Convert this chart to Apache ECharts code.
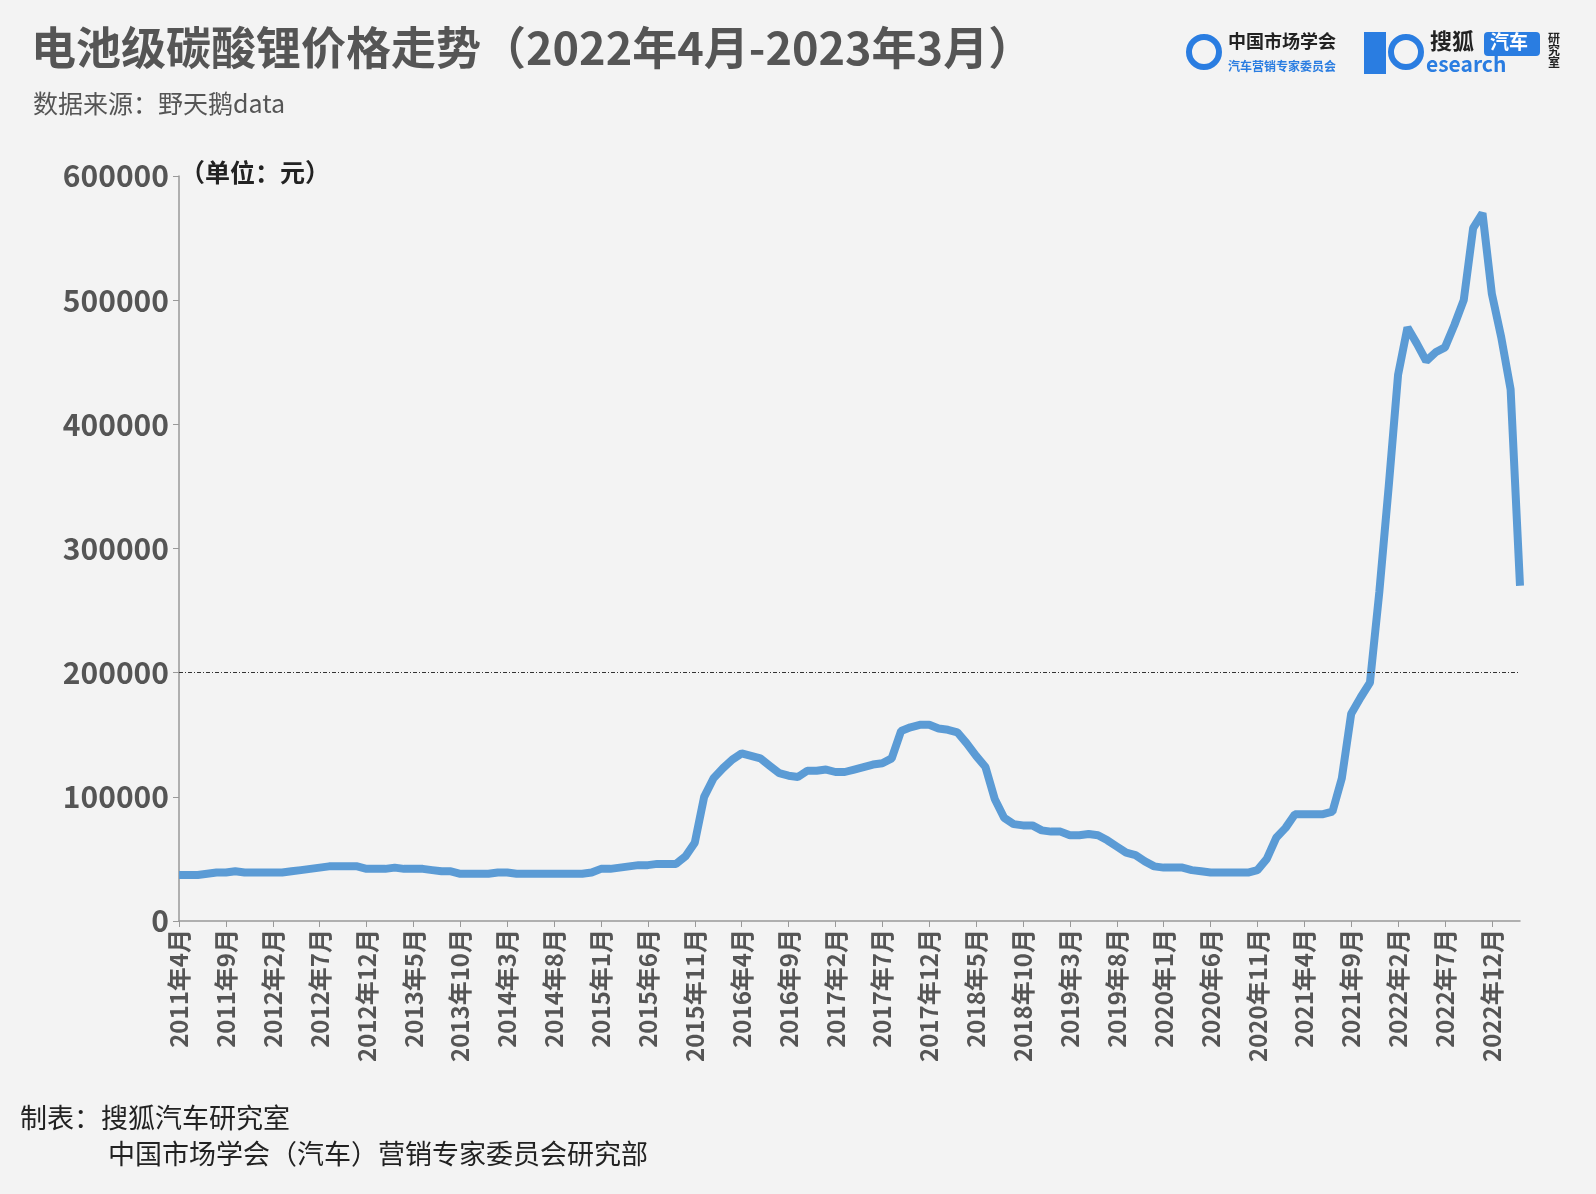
<!DOCTYPE html><html><head><meta charset="utf-8"><script src="https://cdn.jsdelivr.net/npm/echarts@6/dist/echarts.min.js"></script>
<style>body{margin:0;background:#f3f3f3}#c{width:1596px;height:1194px}</style></head><body><div id="c"></div><script>
const startYear=2011,startMonth=4,monthCount=144;
const categories=[];for(let i=0;i<monthCount;i++){const m=startMonth-1+i;categories.push((startYear+Math.floor(m/12))+'年'+(m%12+1)+'月');}
const prices=[37000,37000,37000,38000,39000,39000,40000,39000,39000,39000,
39000,39000,40000,41000,42000,43000,44000,44000,44000,44000,
42000,42000,42000,43000,42000,42000,42000,41000,40000,40000,
38000,38000,38000,38000,39000,39000,38000,38000,38000,38000,
38000,38000,38000,38000,39000,42000,42000,43000,44000,45000,
45000,46000,46000,46000,52000,63000,100000,115000,123000,130000,
135000,133000,131000,125000,119000,117000,116000,121000,121000,122000,
120000,120000,122000,124000,126000,127000,131000,153000,156000,158000,
158000,155000,154000,152000,143000,133000,124000,98000,83000,78000,
77000,77000,73000,72000,72000,69000,69000,70000,69000,65000,
60000,55000,53000,48000,44000,43000,43000,43000,41000,40000,
39000,39000,39000,39000,39000,41000,50000,67000,75000,86000,
86000,86000,86000,88000,115000,167000,180000,192000,265000,350000,
440000,478000,465000,451000,458000,462000,480000,500000,558000,570000,
505000,470000,428000,270000];
const chart=echarts.init(document.getElementById('c'));
const F='"Noto Sans CJK SC","Noto Sans",sans-serif';
chart.setOption({backgroundColor:'#f3f3f3',textStyle:{fontFamily:F},
title:[{text:'电池级碳酸锂价格走势（2022年4月-2023年3月）',left:26,top:20,textStyle:{fontSize:45,fontWeight:'bold',color:'#555',fontFamily:F}},
{text:'数据来源：野天鹅data',left:28,top:86,textStyle:{fontSize:25,fontWeight:'normal',color:'#555',fontFamily:F}}],
graphic:[
{type:'text',left:180,top:160,style:{text:'（单位：元）',font:'bold 25px '+F,fill:'#222'}},
{type:'text',left:20,top:1104,style:{text:'制表：搜狐汽车研究室',font:'27px '+F,fill:'#222'}},
{type:'text',left:108,top:1140,style:{text:'中国市场学会（汽车）营销专家委员会研究部',font:'27px '+F,fill:'#222'}},
{type:'circle',shape:{cx:1204,cy:52,r:15},style:{fill:'none',stroke:'#2a7de1',lineWidth:6}},
{type:'text',left:1228,top:32,style:{text:'中国市场学会',font:'bold 18px '+F,fill:'#222'}},
{type:'text',left:1228,top:60,style:{text:'汽车营销专家委员会',font:'bold 12px '+F,fill:'#2a7de1'}},
{type:'rect',shape:{x:1364,y:32,width:22,height:42},style:{fill:'#2a7de1'}},
{type:'circle',shape:{cx:1406,cy:52,r:15},style:{fill:'none',stroke:'#2a7de1',lineWidth:6}},
{type:'text',left:1430,top:30,style:{text:'搜狐',font:'bold 22px '+F,fill:'#222'}},
{type:'rect',shape:{x:1484,y:32,width:56,height:24,r:4},style:{fill:'#2a7de1'}},
{type:'text',left:1490,top:32,style:{text:'汽车',font:'bold 19px '+F,fill:'#fff'}},
{type:'text',left:1426,top:54,style:{text:'esearch',font:'bold 21px '+F,fill:'#2a7de1'}},
{type:'text',left:1548,top:32,style:{text:'研\n究\n室',font:'bold 12px '+F,fill:'#222'}}
],
grid:{left:179,right:76,top:176,bottom:273},
xAxis:{type:'category',data:categories,boundaryGap:false,
axisLine:{lineStyle:{color:'#999',width:1.5}},axisTick:{interval:4,length:6,lineStyle:{color:'#999'}},
axisLabel:{interval:4,rotate:90,fontSize:24,fontWeight:'bold',color:'#555',fontFamily:F}},
yAxis:{type:'value',min:0,max:600000,interval:100000,
axisLine:{show:true,lineStyle:{color:'#999',width:1.5}},axisTick:{show:true,length:6,lineStyle:{color:'#999'}},splitLine:{show:false},
axisLabel:{fontSize:30,fontWeight:'bold',color:'#555',margin:10,fontFamily:F,formatter:v=>String(v)}},
series:[{type:'line',data:prices,showSymbol:false,smooth:false,lineStyle:{color:'#5b9bd5',width:8},
markLine:{silent:true,symbol:'none',label:{show:false},lineStyle:{color:'#333',type:[4,2,1,2],width:1},data:[{yAxis:200000}]}}]
});
</script></body></html>
